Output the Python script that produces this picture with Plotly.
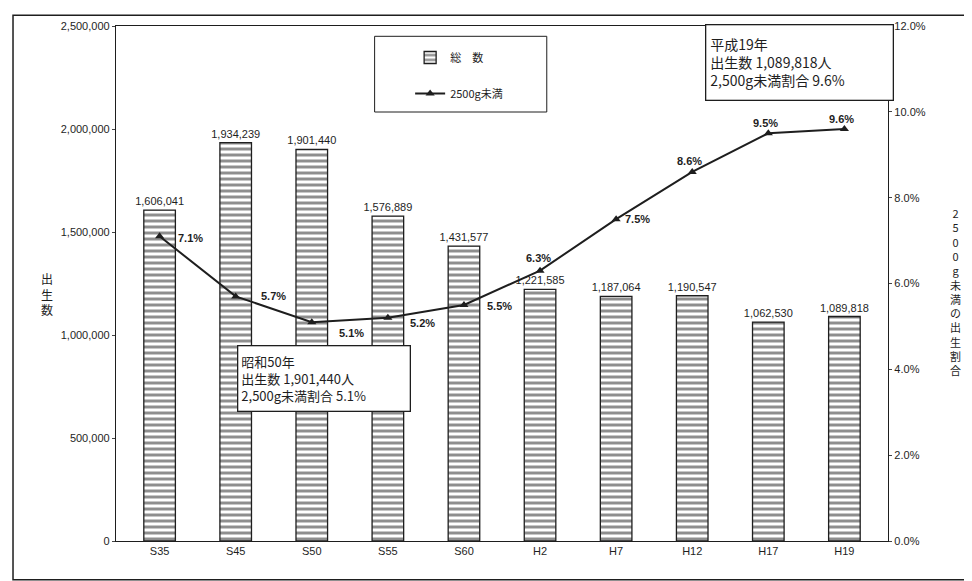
import plotly.graph_objects as go

years = ["S35", "S45", "S50", "S55", "S60", "H2", "H7", "H12", "H17", "H19"]
births = [1606041, 1934239, 1901440, 1576889, 1431577, 1221585, 1187064, 1190547, 1062530, 1089818]
low_weight_pct = [7.1, 5.7, 5.1, 5.2, 5.5, 6.3, 7.5, 8.6, 9.5, 9.6]

# label placement for the % labels (anchor, x shift px, y shift px)
pct_anchor = ["left", "left", "left", "left", "left", "center", "left", "center", "center", "center"]
pct_dx = [16, 23, 25, 20, 21, -2, 7, -3, -3, -3]
pct_dy = [-2, 0, -11, -5, -1, 13, 0, 11, 10, 10]

FONT = "Liberation Sans, Arial, sans-serif"
JP = "Noto Sans CJK JP, sans-serif"
INK = "#1e1e1e"

fig = go.Figure()
fig.add_trace(
    go.Bar(
        x=years,
        y=births,
        name="総　数",
        marker=dict(
            color="white",
            line=dict(color=INK, width=1.3),
            pattern=dict(shape="-", fgcolor=INK, bgcolor="white", size=6, solidity=0.5),
        ),
        text=[f"{v:,}" for v in births],
        textposition="outside",
        constraintext="none",
        textfont=dict(family=FONT, size=11, color=INK),
        cliponaxis=False,
        legendgroup="a",
    )
)
fig.add_trace(
    go.Scatter(
        x=years,
        y=low_weight_pct,
        name="2500g未満",
        yaxis="y2",
        mode="lines+markers",
        line=dict(color=INK, width=2),
        marker=dict(symbol="triangle-up", size=8, color=INK),
        legendgroup="b",
    )
)

for yr, v, anc, dx, dy in zip(years, low_weight_pct, pct_anchor, pct_dx, pct_dy):
    fig.add_annotation(
        x=yr, y=v, xref="x", yref="y2", text=f"<b>{v:.1f}%</b>", showarrow=False,
        xanchor=anc, yanchor="middle", xshift=dx, yshift=dy,
        font=dict(family=FONT, size=11, color=INK),
    )

fig.update_layout(
    width=964,
    height=573,
    margin=dict(l=108, r=84, t=13, b=40),
    paper_bgcolor="white",
    plot_bgcolor="white",
    bargap=0.585,
    font=dict(family=FONT, size=11, color=INK),
    showlegend=True,
    legend=dict(
        x=0.381,
        y=0.967,
        xanchor="left",
        yanchor="top",
        bgcolor="rgba(0,0,0,0)",
        borderwidth=0,
        tracegroupgap=17,
        font=dict(family=JP, size=11, color=INK),
    ),
    xaxis=dict(
        showline=True,
        linecolor=INK,
        linewidth=1.3,
        mirror=True,
        ticks="",
        showgrid=False,
        tickfont=dict(family=FONT, size=11, color=INK),
    ),
    yaxis=dict(
        range=[0, 2500000],
        dtick=500000,
        tickformat=",d",
        showline=True,
        linecolor=INK,
        linewidth=1.3,
        ticks="outside",
        ticklen=3,
        showgrid=False,
        zeroline=False,
        tickfont=dict(family=FONT, size=11, color=INK),
    ),
    yaxis2=dict(
        range=[0, 12],
        dtick=2,
        tickformat=".1f",
        ticksuffix="%",
        overlaying="y",
        side="right",
        showline=True,
        linecolor=INK,
        linewidth=1.3,
        ticks="outside",
        ticklen=3,
        showgrid=False,
        zeroline=False,
        tickfont=dict(family=FONT, size=11, color=INK),
    ),
    shapes=[
        # outer frame
        dict(type="rect", xref="paper", yref="paper", x0=-0.1334, x1=1.12, y0=-0.075, y1=1.021,
             line=dict(color=INK, width=1.5), fillcolor="rgba(0,0,0,0)", layer="below"),
        # legend box
        dict(type="rect", xref="paper", yref="paper", x0=0.335, x1=0.558, y0=0.833, y1=0.98,
             line=dict(color=INK, width=1), fillcolor="white", layer="below"),
    ],
)

fig.add_annotation(
    xref="paper", yref="paper", x=0.763, y=1.004, xanchor="left", yanchor="top",
    text="平成19年<br>出生数 1,089,818人<br>2,500g未満割合 9.6%",
    align="left", showarrow=False, bgcolor="white", bordercolor=INK, borderwidth=1.3,
    borderpad=4, width=178, height=66, valign="middle",
    font=dict(family=JP, size=14, color=INK),
)
fig.add_annotation(
    xref="paper", yref="paper", x=0.157, y=0.381, xanchor="left", yanchor="top",
    text="昭和50年<br>出生数 1,901,440人<br>2,500g未満割合 5.1%",
    align="left", showarrow=False, bgcolor="white", bordercolor=INK, borderwidth=1.3,
    borderpad=3, width=165, height=58, valign="middle",
    font=dict(family=JP, size=13, color=INK),
)
fig.add_annotation(
    xref="paper", yref="paper", x=-0.1, y=0.48, text="出<br>生<br>数",
    showarrow=False, font=dict(family=JP, size=12, color=INK),
)
fig.add_annotation(
    xref="paper", yref="paper", x=1.097, y=0.485,
    text="<br>".join(list("2500g未満の出生割合")),
    showarrow=False, font=dict(family=JP, size=11, color=INK),
)

fig.write_html("out.html")
